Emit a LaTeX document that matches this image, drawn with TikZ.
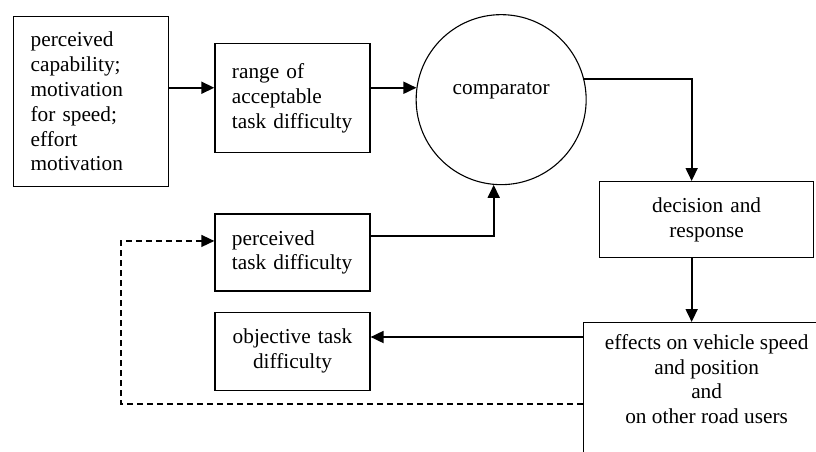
\documentclass[tikz,border=0pt]{standalone}
\usepackage{fontspec}
\setmainfont{Liberation Serif}
\usetikzlibrary{positioning, arrows.meta}
\tikzset{
->, % makes the connectors directed
>={Triangle[length=13pt,width=12pt]}, % filled arrow heads
every node/.style={font=\fontsize{21.3}{24.8}\selectfont}, % serif text everywhere
box/.style={draw, line width=1.3pt, inner xsep=17pt, inner ysep=4pt, text width=121pt}, % the rectangular blocks
link/.style={line width=1.8pt}, % the solid connectors
}

\begin{document}
\begin{tikzpicture}[x=1pt, y=-1pt]
        \useasboundingbox (0,0) rectangle (816,452);
        \clip (0,0) rectangle (816,452);

        \node[box, align=left, minimum height=170pt, anchor=north west] (cap) at (13,16)
            {perceived\\capability;\\motivation\\for speed;\\effort\\motivation};
        \node[box, align=left, minimum height=109pt, right=45pt of cap, yshift=3.5pt] (range)
            {range of\\acceptable\\task difficulty};
        \node[draw, circle, line width=1.1pt, minimum size=170pt, inner sep=0pt,
            text height=15pt, text depth=25pt, right=45pt of range, yshift=-1.5pt] (comp) {comparator};
        \node[box, align=center, text width=180pt, minimum height=76pt, anchor=north west] (dec) at (599,181)
            {decision and\\response};
        \node[box, minimum width=246pt, minimum height=180pt, text width=, anchor=north west,
            label={[align=center, anchor=north, inner sep=0pt, yshift=-12pt]north:{effects on vehicle speed\\and position\\and\\on other road users}}] (eff) at (583,322) {};
        \node[box, align=left, minimum height=77pt, below=60pt of range] (ptd)
            {perceived\\task difficulty};
        \node[box, align=center, minimum height=78pt, below=20pt of ptd] (obj)
            {objective task\\difficulty};

        \draw[link] (cap.east |- comp.172) -- (range.west |- comp.172);
        \draw[link] (range.east |- comp.172) -- (comp.172);
        \draw[link] (comp.14) -| ([xshift=-15pt]dec.north);
        \draw[link] ([xshift=-15pt]dec.south) -- ([xshift=-15pt]dec.south |- eff.north);
        \draw[link] ([yshift=-15pt]eff.north west) -- ([yshift=-15pt]eff.north west -| obj.east);
        \draw[link] ([yshift=16.5pt]ptd.east) -| (comp.265);
        \draw[line width=1.4pt, dash pattern=on 6pt off 4pt] ([yshift=-82pt]eff.north west) -- ++(-462,0) |- ([yshift=11.5pt]ptd.west);
\end{tikzpicture}
\end{document}
